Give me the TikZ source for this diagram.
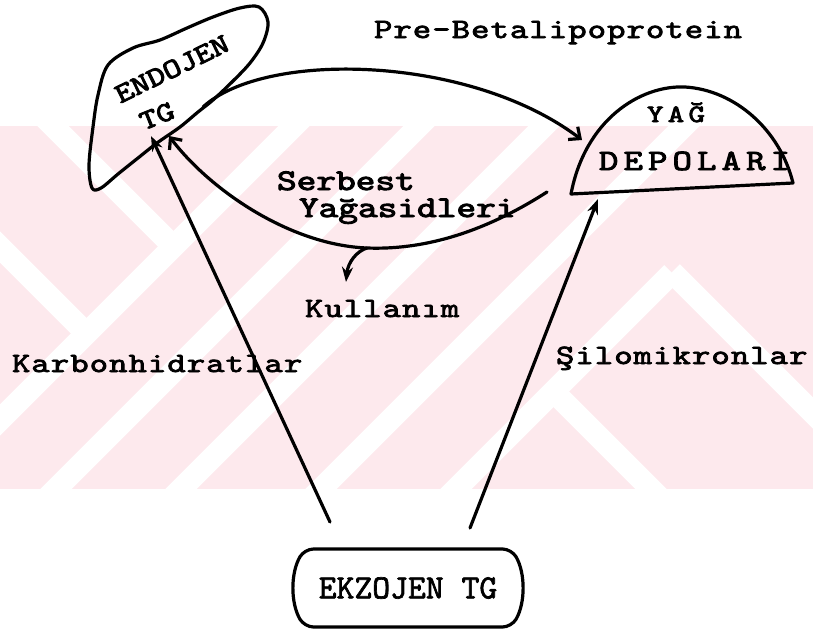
\documentclass[tikz,border=0pt]{standalone}
\usepackage{fontspec}
\usetikzlibrary{arrows.meta,shapes.misc}

\newfontfamily\twa{lmmono10-regular.otf}[LetterSpace=3, FakeBold=2.5]
\newfontfamily\twb{lmmono10-regular.otf}[LetterSpace=14, FakeBold=3]
\newfontfamily\twc{lmmono10-regular.otf}[FakeBold=3]
\newfontfamily\twd{lmmono10-regular.otf}[FakeBold=2]

\definecolor{wmpink}{RGB}{253,233,237}

\begin{document}
\begin{tikzpicture}[x=1pt, y=-1pt, line width=3.2pt, line cap=round, line join=round,
    lbl/.style={inner sep=0pt, anchor=base west, xscale=1.25},
    lowtxt/.style={font=\twa\fontsize{28}{30}\selectfont},
    boldtxt/.style={font=\twc\fontsize{30}{32}\selectfont},
    arr/.style={-{Stealth[length=15pt, width=11pt]}},
    barb/.style={-{Straight Barb[length=9pt, width=16pt]}},
    stripe/.style={white, line width=22pt, line cap=butt}]

  \useasboundingbox (0,0) rectangle (813,632);

  % ==================================================
  % Watermark (pale chevrons behind the diagram)
  % ==================================================
  \begin{scope}
    \clip (0,126) rectangle (813,489);
    \fill[wmpink] (0,126) rectangle (813,489);
    %    rising stripes
    \foreach \c in {420,545,670,810}
      \draw[stripe] (\c-520,520) -- (\c-100,100);
    \draw[stripe] (425,520) -- (672,273);
    %    falling stripes
    \draw[stripe] (30,103) -- (175,248);
    \draw[stripe] (-20,227) -- (88,335);
    \draw[stripe] (672,272) -- (840,440);
    \draw[stripe] (555,393) -- (670,508);
  \end{scope}

  % ==================================================
  % ENDOJEN TG (liver-like blob, upper left)
  % ==================================================
  \draw plot[smooth cycle, tension=0.55] coordinates {
    (89,165) (93,127) (98,95) (108,65) (133,48) (160,40) (187,28) (213,17)
    (240,8) (259,7) (268,22) (263,43) (250,63) (233,81) (213,100) (198,112)
    (180,127) (157,143) (138,158) (118,174) (101,188) (92,188)};
  \node[rotate=26, xscale=1.2, inner sep=0pt, font=\twc\fontsize{28}{30}\selectfont] (endo) at (172,69) {ENDOJEN};
  \node[rotate=22, xscale=1.2, inner sep=0pt, font=\twc\fontsize{28}{30}\selectfont] (tg) at (157,116) {TG};
  \coordinate (endoA) at (151,136);
  \coordinate (endoB) at (169,136);
  \coordinate (endoOut) at (203,107);

  % ==================================================
  % YAG DEPOLARI (dome, upper right)
  % ==================================================
  \draw (571,194) .. controls (585,120) and (640,85) .. (685,87)
    .. controls (735,90) and (780,130) .. (793,183) -- cycle;
  \node[lbl, font=\twb\fontsize{25}{27}\selectfont] (yag) at (645,122) {YAĞ};
  \node[lbl, font=\twb\fontsize{29.5}{31}\selectfont] (depo) at (597,170) {DEPOLARI};
  \coordinate (yagIn) at (582,140);
  \coordinate (yagOut) at (547,192);
  \coordinate (yagBot) at (598,199);

  % ==================================================
  % EKZOJEN TG (box, bottom)
  % ==================================================
  \node[draw, rounded rectangle, rounded rectangle arc length=60, rounded corners=9pt,
    minimum width=228pt, minimum height=78pt, inner sep=0pt,
    font=\twd\fontsize{34}{36}\selectfont] (ekzo) at (408,588) {EKZOJEN TG};
  \coordinate (ekzoL) at (330,522);
  \coordinate (ekzoR) at (470,528);

  % -- Flows
  \draw[barb] (endoOut) .. controls (265,50) and (470,55) .. (yagIn);
  \coordinate (fork) at (367,248);
  \draw[barb] (yagOut) .. controls (480,235) and (420,250) .. (fork)
    .. controls (290,245) and (210,190) .. (endoB);
  \coordinate (kulTip) at (346,282);
  \draw[arr] (fork) .. controls (357,251) and (348,262) .. (kulTip);
  \draw[arr] (ekzoL) -- (endoA);
  \draw[arr] (ekzoR) -- (yagBot);

  % -- Labels
  \node[lbl, lowtxt] (prebeta) at (372,38) {Pre-Betalipoprotein};
  \node[lbl, boldtxt] (serb) at (275,190) {Serbest};
  \node[lbl, boldtxt] (yagas) at (297,217) {Yağasidleri};
  \node[lbl, lowtxt] (kull) at (303,317) {Kullanım};
  \node[lbl, lowtxt] (karb) at (10,372) {Karbonhidratlar};
  \node[lbl, lowtxt] (silo) at (554,364) {Şilomikronlar};

\end{tikzpicture}
\end{document}
